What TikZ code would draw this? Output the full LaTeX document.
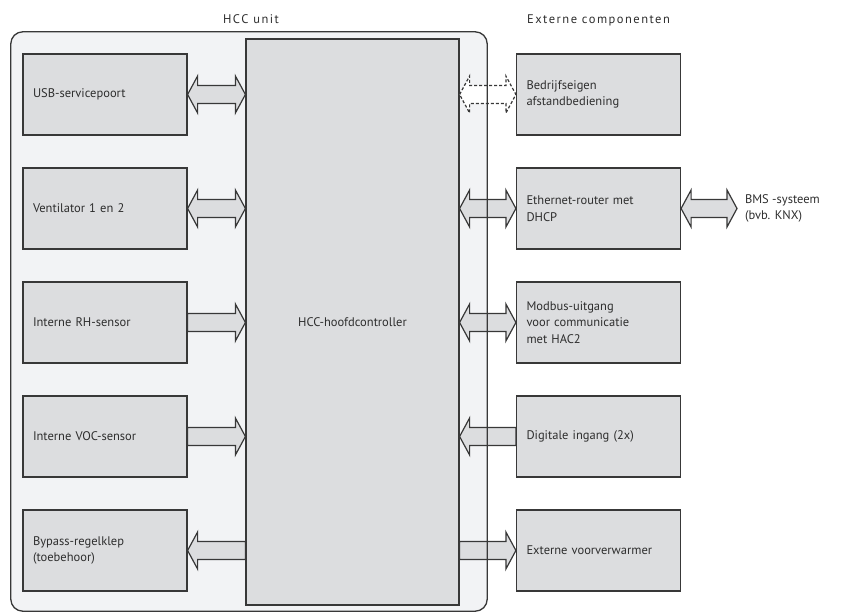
\documentclass[tikz,border=0pt]{standalone}
\usepackage{fontspec}
\setmainfont{PT Sans}
\newfontfamily\trackedfont[LetterSpace=12]{PT Sans}
\usetikzlibrary{calc}
\definecolor{unitbg}{HTML}{F2F3F5}
\definecolor{blockfill}{HTML}{DCDDDF}
\definecolor{edge}{HTML}{383838}
\definecolor{ink}{HTML}{2E2E2E}

\begin{document}
\begin{tikzpicture}[x=1pt, y=-1pt,
  font=\fontsize{12.5}{16.5}\selectfont, text=ink,
  comp/.style={draw=edge, fill=blockfill, line width=1.2pt, minimum height=81pt,
    text width=144pt, inner xsep=10pt, align=left},
  title/.style={font=\trackedfont\fontsize{12.5}{15}\selectfont},
  fat/.style={draw=edge, fill=blockfill, line width=1.2pt, line join=miter, to path={
    let \p1=(\tikztostart), \p2=(\tikztotarget), \n1={sign(\x2-\x1)} in
    (\x1,\y1+9pt) -- (\x2-\n1*10pt,\y1+9pt) -- (\x2-\n1*10pt,\y1+18.5pt) -- (\x2,\y1)
    -- (\x2-\n1*10pt,\y1-18.5pt) -- (\x2-\n1*10pt,\y1-9pt) -- (\x1,\y1-9pt) -- cycle}},
  fatfat/.style={draw=edge, fill=blockfill, line width=1.2pt, line join=miter, to path={
    let \p1=(\tikztostart), \p2=(\tikztotarget), \n1={sign(\x2-\x1)} in
    (\x1,\y1) -- (\x1+\n1*10pt,\y1+18.5pt) -- (\x1+\n1*10pt,\y1+9pt)
    -- (\x2-\n1*10pt,\y1+9pt) -- (\x2-\n1*10pt,\y1+18.5pt) -- (\x2,\y1)
    -- (\x2-\n1*10pt,\y1-18.5pt) -- (\x2-\n1*10pt,\y1-9pt)
    -- (\x1+\n1*10pt,\y1-9pt) -- (\x1+\n1*10pt,\y1-18.5pt) -- cycle}},
  optional/.style={dash pattern=on 3pt off 2pt, fill=white}]
\useasboundingbox (0,0) rectangle (843,612);
% ---- HCC unit frame (fill only, border drawn last) ----
\node[fill=unitbg, rounded corners=12pt, minimum width=476pt, minimum height=579pt,
  inner sep=0pt] (unit) at (249,321.5) {};
\node[title] (unitlab) at (251,19) {HCC unit};
\node[title] (extlab) at (598.5,20) {Externe componenten};
% ---- internal components ----
\node[comp] (usb) at (105,94.5) {USB-servicepoort};
\node[comp] (vent) at (105,208.5) {Ventilator 1 en 2};
\node[comp] (rh) at (105,322.5) {Interne RH-sensor};
\node[comp] (voc) at (105,436.5) {Interne VOC-sensor};
\node[comp] (bypass) at (105,550.5) {Bypass-regelklep\\(toebehoor)};
\node[comp, text width=193pt, minimum height=566pt, align=center] (hcc) at (352.5,322)
  {HCC-hoofdcontroller};
% ---- external components ----
\node[comp] (remote) at (598.5,94.5) {Bedrijfseigen\\afstandbediening};
\node[comp] (router) at (598.5,208.5) {Ethernet-router met\\DHCP};
\node[comp] (modbus) at (598.5,322.5) {Modbus-uitgang\\voor communicatie\\met HAC2};
\node[comp] (digin) at (598.5,436.5) {Digitale ingang (2x)};
\node[comp] (preheat) at (598.5,550.5) {Externe voorverwarmer};
\node[anchor=west, inner sep=0pt, outer xsep=8pt, align=left] (bms)
  at (737,208.5) {BMS -systeem\\(bvb. KNX)};
% ---- block arrows, left side ----
\draw[fatfat] (usb.east) to (usb.east -| hcc.west);
\draw[fatfat] (vent.east) to (vent.east -| hcc.west);
\draw[fat] (rh.east) to (rh.east -| hcc.west);
\draw[fat] (voc.east) to (voc.east -| hcc.west);
\draw[fat] (bypass.east -| hcc.west) to (bypass.east);
% ---- block arrows, right side ----
\draw[fatfat, optional] (remote.west -| hcc.east) to (remote.west);
\draw[fatfat] (router.west -| hcc.east) to (router.west);
\draw[fatfat] (router.east) to (bms.west);
\draw[fatfat] (modbus.west -| hcc.east) to (modbus.west);
\draw[fat] (digin.west) to (digin.west -| hcc.east);
\draw[fat] (preheat.west -| hcc.east) to (preheat.west);
% frame border on top of the arrows
\draw[edge, line width=1.3pt, rounded corners=12pt] (unit.north west) rectangle (unit.south east);
\end{tikzpicture}
\end{document}
